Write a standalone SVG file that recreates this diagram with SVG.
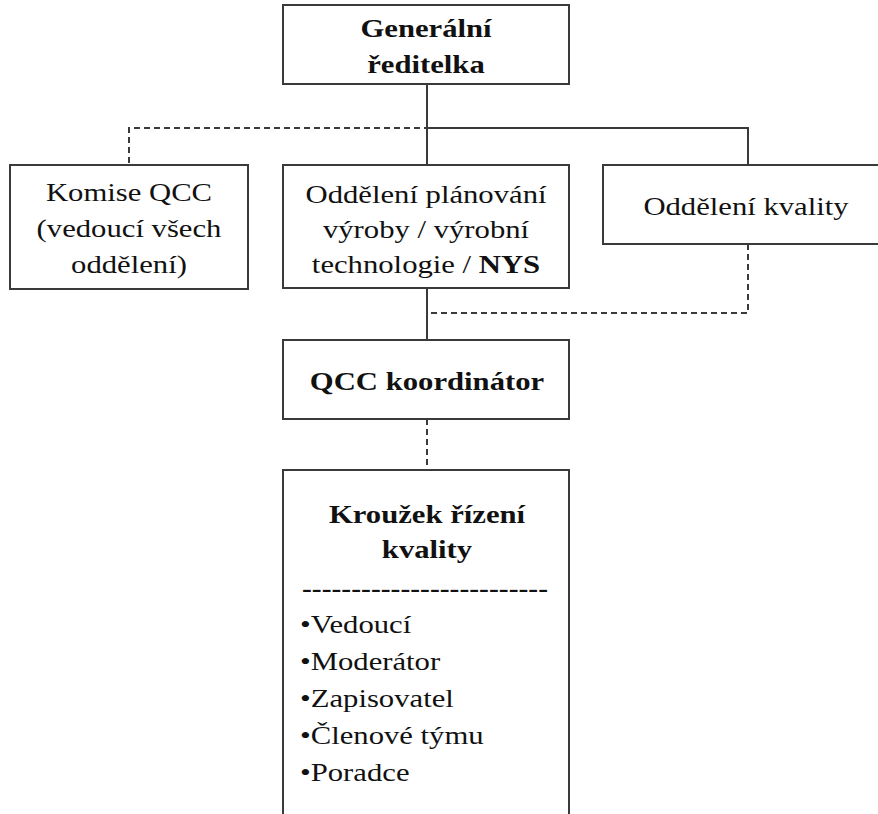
<svg xmlns="http://www.w3.org/2000/svg" width="878" height="814" viewBox="0 0 878 814">
<style>
.box{fill:#fff;stroke:#3a3a3a;stroke-width:2}
.ln{fill:none;stroke:#3a3a3a;stroke-width:2}
.dash{stroke-dasharray:6 4}
text{font-family:'Liberation Serif','DejaVu Serif',serif;font-size:26px;fill:#111}
.c{text-anchor:middle}
.b{font-weight:bold}
</style>
<rect width="878" height="814" fill="#fff"/>
<g id="connectors">
<path class="ln" d="M427 84V165M427 128H748V165"/>
<path class="ln dash" d="M450 128H129V165"/>
<path class="ln dash" d="M748 244V313H430"/>
<path class="ln" d="M427 288V340"/>
<path class="ln dash" d="M427 419V470"/>
</g>
<g font-family="Liberation Serif, DejaVu Serif, serif">
<g id="generalni">
<rect class="box" x="283" y="5" width="286" height="79"/>
<text class="c b" transform="translate(426,37) scale(1.18,1)">Generální</text>
<text class="c b" transform="translate(426,73) scale(1.18,1)">ředitelka</text>
</g>
<g id="komise">
<rect class="box" x="10" y="165" width="238" height="124"/>
<text class="c" transform="translate(129,201) scale(1.18,1)">Komise QCC</text>
<text class="c" transform="translate(129,237) scale(1.18,1)">(vedoucí všech</text>
<text class="c" transform="translate(129,273) scale(1.18,1)">oddělení)</text>
</g>
<g id="planovani">
<rect class="box" x="283" y="165" width="286" height="123"/>
<text class="c" transform="translate(426,203) scale(1.18,1)">Oddělení plánování</text>
<text class="c" transform="translate(426,238) scale(1.18,1)">výroby / výrobní</text>
<text class="c" transform="translate(426,273) scale(1.18,1)">technologie / <tspan class="b">NYS</tspan></text>
</g>
<g id="kvalita">
<rect class="box" x="603" y="165" width="290" height="79"/>
<text class="c" transform="translate(746,215) scale(1.18,1)">Oddělení kvality</text>
</g>
<g id="koordinator">
<rect class="box" x="283" y="340" width="286" height="79"/>
<text class="c b" transform="translate(427,390) scale(1.18,1)">QCC koordinátor</text>
</g>
<g id="krouzek">
<rect class="box" x="283" y="470" width="286" height="380"/>
<text class="c b" transform="translate(427,523) scale(1.18,1)">Kroužek řízení</text>
<text class="c b" transform="translate(427,558) scale(1.18,1)">kvality</text>
<text class="b" x="302" y="597" textLength="246" lengthAdjust="spacingAndGlyphs">-------------------------</text>
<text transform="translate(300,633) scale(1.18,1)">•Vedoucí</text>
<text transform="translate(300,670) scale(1.18,1)">•Moderátor</text>
<text transform="translate(300,707) scale(1.18,1)">•Zapisovatel</text>
<text transform="translate(300,744) scale(1.18,1)">•Členové týmu</text>
<text transform="translate(300,781) scale(1.18,1)">•Poradce</text>
</g>
</g>
</svg>
